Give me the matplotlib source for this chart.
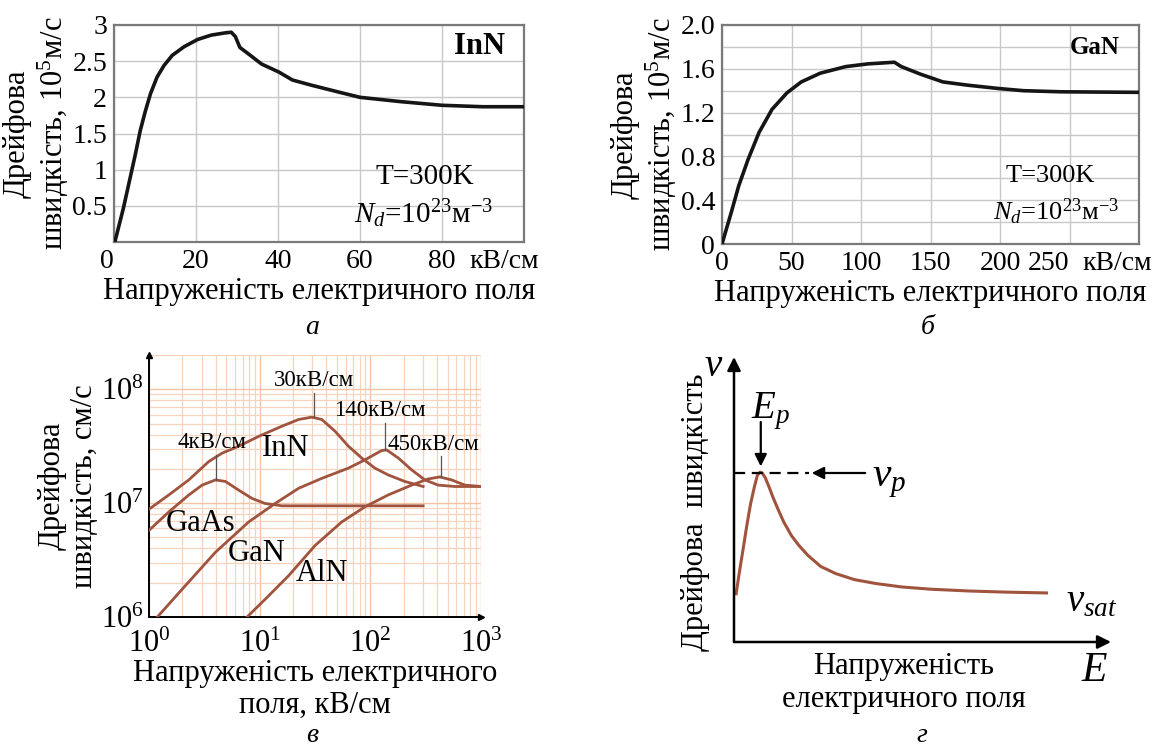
import matplotlib
matplotlib.use("Agg")
import matplotlib.pyplot as plt
from matplotlib.ticker import NullFormatter

plt.rcParams["font.family"] = ["Liberation Serif", "DejaVu Serif"]
plt.rcParams["mathtext.fontset"] = "custom"
plt.rcParams["mathtext.rm"] = "Liberation Serif"
plt.rcParams["mathtext.it"] = "Liberation Serif:italic"
plt.rcParams["mathtext.bf"] = "Liberation Serif:bold"
plt.rcParams["mathtext.default"] = "regular"

# --- panel a: InN, field (kV/cm) vs drift velocity (1e5 m/s)
inn_field = [0.25, 2.3, 3.95, 5.2, 6.4, 7.65, 8.9, 10.5, 12.2, 14.2, 17.1, 20.4, 23.7, 27, 28.6,
             29.6, 30.7, 32.8, 36, 40.2, 43.5, 48, 55, 60, 70, 80, 90, 100]
inn_vel = [0.01, 0.47, 0.89, 1.21, 1.54, 1.81, 2.05, 2.28, 2.44, 2.58, 2.70, 2.80, 2.86, 2.89, 2.90,
           2.84, 2.69, 2.60, 2.46, 2.35, 2.24, 2.17, 2.07, 2.0, 1.94, 1.89, 1.87, 1.87]

# --- panel b: GaN
gan_field = [0, 6.7, 12, 18.7, 26.7, 36, 46.7, 57, 70.7, 89, 105, 124, 129, 143, 159, 177, 199, 217, 244, 300]
gan_vel = [0, 0.29, 0.53, 0.77, 1.02, 1.23, 1.38, 1.48, 1.56, 1.62, 1.645, 1.66, 1.62, 1.55, 1.48, 1.45,
           1.42, 1.40, 1.39, 1.385]

# --- panel c: log-log, field (kV/cm) vs drift velocity (cm/s)
c_inn_field = [1, 1.51, 2.29, 3.47, 4.58, 6.47, 9.8, 15.9, 22.5, 29.6, 36.4, 48, 63.4, 83.6, 110, 145, 205, 300]
c_inn_vel = [8.85e6, 1.18e7, 1.6e7, 2.32e7, 2.75e7, 3.16e7, 3.86e7, 4.74e7, 5.43e7, 5.69e7, 5.43e7, 4.28e7,
             3.16e7, 2.49e7, 2.03e7, 1.77e7, 1.55e7, 1.4e7]
c_gaas_field = [1, 1.51, 2.29, 3.02, 3.99, 4.91, 6.47, 8.53, 11.2, 15.9, 300]
c_gaas_vel = [5.77e6, 8.37e6, 1.18e7, 1.44e7, 1.6e7, 1.55e7, 1.30e7, 1.1e7, 9.93e6, 9.47e6, 9.47e6]
c_gan_field = [1.19, 2.0, 3.99, 7.96, 13.8, 22.5, 36.4, 63.4, 89.5, 126, 140, 179, 236, 311, 410, 579, 1000]
c_gan_vel = [1e6, 1.76e6, 3.71e6, 6.84e6, 9.93e6, 1.35e7, 1.65e7, 2.03e7, 2.4e7, 2.89e7, 2.94e7, 2.49e7,
             1.96e7, 1.6e7, 1.44e7, 1.4e7, 1.4e7]
c_aln_field = [7.69, 11.2, 18.3, 31.7, 55.2, 89.5, 145, 236, 333, 424, 541, 713, 1000]
c_aln_vel = [1e6, 1.43e6, 2.31e6, 4.25e6, 6.84e6, 9.29e6, 1.18e7, 1.44e7, 1.63e7, 1.7e7, 1.6e7, 1.44e7, 1.4e7]

peak_field = [3.99, 30.7, 136, 433]
peak_vel = [1.6e7, 5.69e7, 2.94e7, 1.7e7]
peak_top = [2.66e7, 9.34e7, 5.07e7, 2.57e7]
peak_label_x = [3.72, 30.7, 122, 370]
peak_labels = ["4кВ/см", "30кВ/см", "140кВ/см", "450кВ/см"]

# --- panel d: schematic curve (arbitrary units)
d_field = [0.05, 0.15, 0.25, 0.34, 0.44, 0.54, 0.62, 0.69, 0.75, 0.83, 0.93, 1.03, 1.18, 1.32, 1.52, 1.72,
           1.96, 2.30, 2.70, 3.19, 3.77, 4.46, 5.25, 6.23, 7.21, 8.33]
d_vel = [1.64, 2.51, 3.33, 4.09, 4.85, 5.44, 5.85, 5.96, 5.93, 5.76, 5.44, 5.09, 4.62, 4.21, 3.74, 3.39,
         3.04, 2.65, 2.40, 2.19, 2.05, 1.93, 1.85, 1.79, 1.75, 1.72]
d_vpeak = 5.93
d_epeak = 0.71

W, H = 1157, 749
BROWN = "#a0533d"


def rect(left, right, top, bottom):
    return [left / W, 1 - bottom / H, (right - left) / W, (bottom - top) / H]


fig = plt.figure(figsize=(W / 100, H / 100), dpi=100)


def linear_panel(ax, field, vel, xmax, ymax):
    ax.plot(field, vel, color="#151515", lw=2.6, solid_joinstyle="round", zorder=3)
    ax.set_xlim(0, xmax)
    ax.set_ylim(0, ymax)
    ax.grid(which="both", color="#c8c8c8", lw=1.0)
    ax.set_axisbelow(True)
    ax.tick_params(which="both", length=0, labelsize=20, pad=5)
    for s in ax.spines.values():
        s.set_color("#7a7a7a")
        s.set_linewidth(1.6)
    ax.annotate("кВ/см", xy=(0, 0), xycoords=("data", "axes fraction"),
                xytext=(0, -5), textcoords="offset points", va="top", ha="center",
                fontsize=20)


# ---------- a
ax = fig.add_axes(rect(114, 524, 25, 242))
linear_panel(ax, inn_field, inn_vel, 100, 3)
ax.set_xticks([0, 20, 40, 60, 80])
ax.set_yticks([0.5, 1, 1.5, 2, 2.5, 3])
ax.set_yticklabels(["0.5", "1", "1.5", "2", "2.5", "3"])
ax.get_xticklabels()[0].set_horizontalalignment("right")
ax.texts[-1].xy = (95.2, 0)
ax.set_ylabel("Дрейфова\nшвидкість, $10^5$м/с", fontsize=22, linespacing=1.15, labelpad=1)
ax.set_xlabel("Напруженість електричного поля", fontsize=22, labelpad=2)
ax.text(89.2, 2.7, "InN", fontsize=22, fontweight="bold", ha="center", va="center")
ax.text(75.9, 0.9, "T=300K", fontsize=21, ha="center", va="center")
ax.text(75.4, 0.39, r"$\mathit{N_d}$=10$^{23}$м$^{-3}$", fontsize=21, ha="center", va="center")

# ---------- b
ax = fig.add_axes(rect(722, 1139, 25, 244))
linear_panel(ax, gan_field, gan_vel, 300, 2.0)
ax.set_xticks([0, 50, 100, 150, 200, 250])
ax.set_yticks([0, 0.4, 0.8, 1.2, 1.6, 2.0])
ax.set_yticklabels(["0", "0.4", "0.8", "1.2", "1.6", "2.0"])
ax.set_yticks([0.2, 0.6, 1.0, 1.4, 1.8], minor=True)
ax.yaxis.set_minor_formatter(NullFormatter())
ax.get_xticklabels()[-1].set_horizontalalignment("right")
ax.texts[-1].xy = (284, 0)
ax.set_ylabel("Дрейфова\nшвидкість, $10^5$м/с", fontsize=22, linespacing=1.15, labelpad=1)
ax.set_xlabel("Напруженість електричного поля", fontsize=22, labelpad=2)
ax.text(268, 1.79, "GaN", fontsize=18, fontweight="bold", ha="center", va="center")
ax.text(236, 0.62, "T=300K", fontsize=19, ha="center", va="center")
ax.text(240, 0.29, r"$\mathit{N_d}$=10$^{23}$м$^{-3}$", fontsize=19, ha="center", va="center")

# ---------- c
ax = fig.add_axes(rect(149, 481, 355, 617))
ax.set_xscale("log")
ax.set_yscale("log")
ax.set_xlim(1, 1000)
ax.set_ylim(1e6, 2e8)
ax.grid(which="major", color="#f3c3a5", lw=1.0)
ax.grid(which="minor", color="#f6d3bd", lw=0.9)
ax.set_axisbelow(True)
ax.xaxis.set_minor_formatter(NullFormatter())
ax.yaxis.set_minor_formatter(NullFormatter())
ax.tick_params(which="both", length=0, labelsize=22)
ax.tick_params(axis="x", pad=9)
ax.tick_params(axis="y", pad=4)
ax.spines["top"].set_visible(False)
ax.spines["right"].set_visible(False)
for s in ("left", "bottom"):
    ax.spines[s].set_linewidth(1.4)
ax.plot([0], [1], marker="^", ms=5, color="k", transform=ax.transAxes, clip_on=False)
ax.plot([1], [0], marker=">", ms=5, color="k", transform=ax.transAxes, clip_on=False)
for f, v in ((c_inn_field, c_inn_vel), (c_gaas_field, c_gaas_vel),
             (c_gan_field, c_gan_vel), (c_aln_field, c_aln_vel)):
    ax.plot(f, v, color=BROWN, lw=2.0, zorder=3, solid_joinstyle="round")
for x, y0, y1, lx, lab in zip(peak_field, peak_vel, peak_top, peak_label_x, peak_labels):
    ax.plot([x, x], [y0, y1], color="#555555", lw=0.9, zorder=4)
    ax.text(lx, y1 * 1.04, lab, fontsize=16.5, ha="center", va="bottom", zorder=5)
ax.text(17.3, 2.99e7, "InN", fontsize=22, ha="center", va="center")
ax.text(2.94, 6.6e6, "GaAs", fontsize=22, ha="center", va="center")
ax.text(9.46, 3.59e6, "GaN", fontsize=22, ha="center", va="center")
ax.text(36.4, 2.39e6, "AlN", fontsize=22, ha="center", va="center")
ax.set_ylabel("Дрейфова\nшвидкість, см/с", fontsize=22, linespacing=1.15, labelpad=1)
ax.set_xlabel("Напруженість електричного\nполя, кВ/см", fontsize=22, linespacing=1.15, labelpad=0)

# ---------- d
ax = fig.add_axes(rect(734, 1111, 357, 642))
ax.set_xlim(0, 10)
ax.set_ylim(0, 10)
ax.axis("off")
arrow = dict(arrowstyle="-|>", lw=1.8, color="k", shrinkA=0, shrinkB=0, mutation_scale=20)
ax.annotate("", xy=(0, 10), xytext=(0, 0), arrowprops=arrow, annotation_clip=False)
ax.annotate("", xy=(10, 0), xytext=(0, 0), arrowprops=arrow, annotation_clip=False)
ax.plot(d_field, d_vel, color=BROWN, lw=2.2, solid_capstyle="butt", solid_joinstyle="round",
        clip_on=False)
ax.plot([0, 2.0], [d_vpeak, d_vpeak], color="k", lw=1.6, dashes=(5, 3))
thin = dict(arrowstyle="-|>", lw=1.6, color="k", shrinkA=0, shrinkB=0, mutation_scale=18)
ax.annotate("", xy=(2.06, d_vpeak), xytext=(3.48, d_vpeak), arrowprops=thin)
ax.annotate("", xy=(d_epeak, 6.16), xytext=(d_epeak, 7.72), arrowprops=thin)
ax.text(0.98, 8.1, r"$\mathit{E_p}$", fontsize=28, ha="center", va="center")
ax.text(4.12, 5.67, r"$\mathit{v_p}$", fontsize=30, ha="center", va="center")
ax.text(9.5, 1.4, r"$\mathit{v_{sat}}$", fontsize=28, ha="center", va="center")
ax.text(-0.55, 9.65, r"$\mathit{v}$", fontsize=28, ha="center", va="center")
ax.text(9.56, -1.0, r"$\mathit{E}$", fontsize=30, ha="center", va="center")
ax.text(-1.03, 4.54, "Дрейфова  швидкість", fontsize=22, rotation=90, ha="center", va="center")
ax.text(4.5, -1.43, "Напруженість\nелектричного поля", fontsize=22, ha="center", va="center",
        linespacing=1.2)

# panel letters
for x, y, s in ((312, 328, "а"), (928, 328, "б"), (312, 735, "в"), (922, 735, "г")):
    fig.text(x / W, 1 - y / H, s, fontsize=20, style="italic", ha="center", va="center")

fig.savefig("out.png", dpi=100)
